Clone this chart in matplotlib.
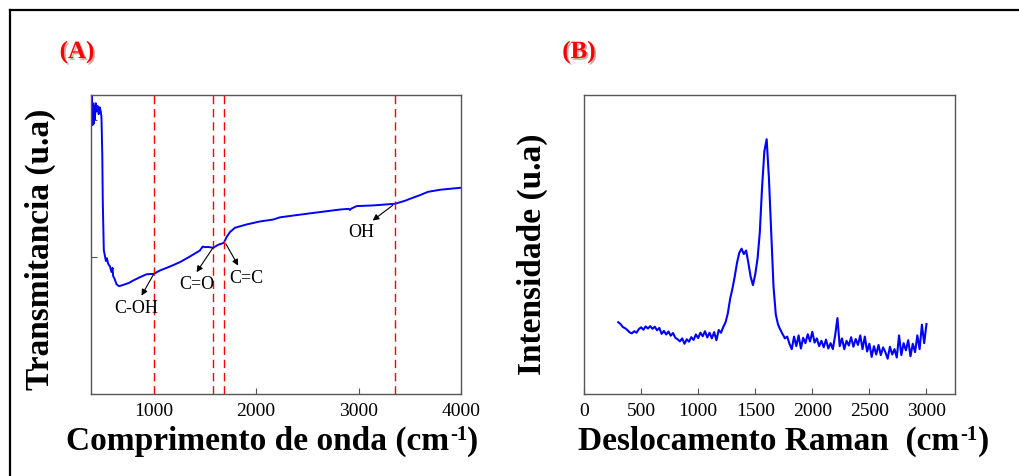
import numpy as np
import matplotlib
matplotlib.use('Agg')
import matplotlib.pyplot as plt
import matplotlib.patheffects as pe
from matplotlib.lines import Line2D
from matplotlib.text import Annotation

plt.rcParams['font.family'] = ['Liberation Serif', 'DejaVu Serif']

# FTIR spectrum (A)
ftir_x = [400, 405, 410, 415, 420, 428, 435, 445, 455, 465, 475, 485, 492, 500, 505,
          515, 535, 545, 557, 575, 590, 600, 606, 620, 639, 664, 703, 760, 801, 866,
          932, 1003, 1061, 1159, 1257, 1354, 1452, 1480, 1501, 1533, 1582, 1631, 1686,
          1713, 1745, 1794, 1908, 2038, 2168, 2233, 2494, 2819, 2905, 2916, 2930, 2982,
          3144, 3356, 3454, 3502, 3600, 3678, 3795, 4000]
ftir_y = [2.17, 1.96, 2.12, 1.97, 2.10, 2.00, 2.12, 2.06, 2.10, 2.04, 2.09, 2.06, 2.02, 1.75, 1.40,
          1.05, 0.97, 0.99, 0.95, 0.93, 0.89, 0.92, 0.86, 0.84, 0.80, 0.786, 0.795, 0.81, 0.827, 0.851,
          0.873, 0.876, 0.900, 0.929, 0.961, 1.002, 1.046, 1.075, 1.071, 1.072, 1.066, 1.088, 1.102,
          1.144, 1.180, 1.212, 1.236, 1.258, 1.272, 1.288, 1.314, 1.345, 1.350, 1.342, 1.352, 1.370,
          1.375, 1.387, 1.409, 1.423, 1.450, 1.474, 1.489, 1.504]

band_pos = [1003, 1582, 1690, 3356]
band_labels = ['C-OH', 'C=O', 'C=C', 'OH']
arrow_tail = [(1003, 0.876), (1582, 1.068), (1706, 1.095), (3333, 1.375)]
arrow_head = [(883, 0.717), (1420, 0.888), (1826, 0.936), (3138, 1.265)]
label_pos = [(834, 0.633), (1420, 0.803), (1908, 0.852), (3031, 1.185)]

# Raman spectrum (B)
raman_x = np.arange(300, 3001, 20)
raman_y = [
    0.240, 0.234, 0.224, 0.220, 0.214, 0.206, 0.203, 0.210, 0.205, 0.217,
    0.223, 0.215, 0.226, 0.219, 0.227, 0.218, 0.225, 0.213, 0.221, 0.201,
    0.211, 0.199, 0.209, 0.195, 0.204, 0.188, 0.183, 0.176, 0.186, 0.168,
    0.183, 0.175, 0.190, 0.181, 0.199, 0.187, 0.205, 0.193, 0.210, 0.189,
    0.205, 0.186, 0.207, 0.180, 0.214, 0.205,
    0.224, 0.240, 0.270, 0.318, 0.352, 0.392, 0.438, 0.472, 0.486, 0.468,
    0.480, 0.438, 0.392, 0.364, 0.400, 0.452, 0.540, 0.692, 0.812, 0.852,
    0.722, 0.540, 0.360, 0.266, 0.232, 0.215, 0.200, 0.186, 0.192,
    0.168, 0.150, 0.192, 0.160, 0.196, 0.152, 0.188, 0.170, 0.200, 0.176,
    0.208, 0.172, 0.186, 0.160, 0.178, 0.156, 0.182, 0.152, 0.170, 0.150,
    0.196, 0.254, 0.160, 0.186, 0.150, 0.178, 0.162, 0.190, 0.158, 0.184,
    0.164, 0.196, 0.150, 0.192, 0.142, 0.168, 0.124, 0.160, 0.132, 0.164,
    0.130, 0.156, 0.140, 0.118, 0.158, 0.132, 0.150, 0.122, 0.196, 0.130,
    0.170, 0.146, 0.180, 0.126, 0.168, 0.140, 0.196, 0.150, 0.232, 0.170,
    0.234]

W, H = 1019, 477
fig = plt.figure(figsize=(W / 100, H / 100), dpi=100)

def px(x, y):
    return x / W, 1 - y / H

# outer frame (top and left edges visible)
fig.add_artist(Line2D([10 / W, 1.01], [1 - 11 / H, 1 - 11 / H], color='black', lw=1.6))
fig.add_artist(Line2D([10 / W, 10 / W], [1 - 11 / H, -0.01], color='black', lw=1.6))

axA = fig.add_axes([91 / W, 1 - 395 / H, 370 / W, 299 / H])
axB = fig.add_axes([584 / W, 1 - 395 / H, 371 / W, 299 / H])

for ax in (axA, axB):
    for s in ax.spines.values():
        s.set_color('#555555')
        s.set_linewidth(1.0)

# panel A
axA.plot(ftir_x, ftir_y, color='blue', lw=1.4)
for xv in band_pos:
    axA.axvline(xv, color='red', lw=1.0, dashes=(6, 3.5))
for lab, t, h, p in zip(band_labels, arrow_tail, arrow_head, label_pos):
    axA.annotate('', xy=h, xytext=t,
                 arrowprops=dict(arrowstyle='-|>', color='black', lw=0.8,
                                 mutation_scale=9, shrinkA=0, shrinkB=0))
    axA.text(p[0], p[1], lab, ha='center', va='center', fontsize=13)
axA.set_xlim(390, 4000)
axA.set_ylim(0, 2.18)
axA.set_xticks([1000, 2000, 3000, 4000])
axA.set_yticks([1, 2])
axA.set_yticklabels([])
axA.tick_params(direction='in', length=4, labelsize=14, color='#555555', pad=6)

# panel B
axB.plot(raman_x, raman_y, color='blue', lw=1.5)
axB.set_xlim(0, 3250)
axB.set_ylim(0, 1)
axB.set_xticks([0, 500, 1000, 1500, 2000, 2500, 3000])
axB.set_yticks([])
axB.tick_params(direction='in', length=4, labelsize=14, color='#555555', pad=6)


def xlabel_with_sup(x_left, main):
    t1 = fig.text(*px(x_left, 450), main, ha='left', va='baseline',
                  fontsize=24, fontweight='bold')
    t2 = Annotation('-1', xy=(1, 477 - 440), xycoords=(t1, 'figure pixels'),
                    xytext=(1, 0), textcoords='offset pixels',
                    ha='left', va='baseline', fontsize=15, fontweight='bold')
    fig.add_artist(t2)
    t3 = Annotation(')', xy=(1, 477 - 450), xycoords=(t2, 'figure pixels'),
                    ha='left', va='baseline', fontsize=24, fontweight='bold')
    fig.add_artist(t3)


xlabel_with_sup(66, 'Comprimento de onda (cm')
xlabel_with_sup(578, 'Deslocamento Raman  (cm')

fig.text(*px(40, 249), 'Transmitancia (u.a)', ha='center', va='center',
         fontsize=24, fontweight='bold', rotation=90)
fig.text(*px(532, 254), 'Intensidade (u.a)', ha='center', va='center',
         fontsize=24, fontweight='bold', rotation=90)

shadow = [pe.SimplePatchShadow(offset=(1.2, -1.2), shadow_rgbFace='#7a0000', alpha=0.35),
          pe.Normal()]
fig.text(*px(77, 53), '(A)', ha='center', va='center', fontsize=18,
         fontweight='bold', color='red', path_effects=shadow)
fig.text(*px(579, 53), '(B)', ha='center', va='center', fontsize=18,
         fontweight='bold', color='red', path_effects=shadow)

fig.savefig('out.png', dpi=100)
